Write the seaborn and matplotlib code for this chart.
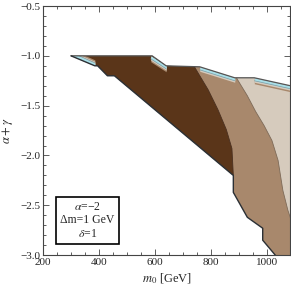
import numpy as np
import matplotlib
matplotlib.use("Agg")
import matplotlib.pyplot as plt
import seaborn as sns
from matplotlib.patches import Polygon
from matplotlib.ticker import MultipleLocator

# outer boundary of the allowed region (upper edge, then lower staircase edge)
top_m0 = [300, 590, 640, 760, 885, 955, 1100]
top_ag = [-1.0, -1.0, -1.1, -1.11, -1.22, -1.22, -1.31]
low_m0 = [300, 385, 395, 430, 455, 880, 880, 930, 985, 985, 1030, 1035]
low_ag = [-1.0, -1.1, -1.1, -1.2, -1.2, -2.2, -2.37, -2.62, -2.73, -2.85, -3.0, -3.05]

# contour between dark and medium region
dm_m0 = [743, 790, 825, 855, 875, 880]
dm_ag = [-1.12, -1.34, -1.54, -1.74, -1.93, -2.2]

# contour between medium and light region
ml_m0 = [893, 930, 960, 990, 1018, 1040, 1057, 1075, 1095]
ml_ag = [-1.23, -1.40, -1.56, -1.70, -1.85, -2.05, -2.35, -2.55, -2.72]

# thin cyan slivers along the edge (+1: band lies above the edge, -1: below)
cyan_m0 = [[305, 385], [585, 640], [760, 885], [955, 1100]]
cyan_ag = [[-1.0, -1.1], [-1.0, -1.1], [-1.11, -1.22], [-1.22, -1.31]]
cyan_side = [1, -1, -1, -1]

dark = "#5a3519"
medium = "#a8886c"
light = "#d6cbbd"
cyan = "#a9dfe8"

sns.set_style("ticks")
plt.rcParams["font.family"] = ["Liberation Serif", "DejaVu Serif"]
plt.rcParams["mathtext.fontset"] = "stix"

fig = plt.figure(figsize=(2.91, 2.87), dpi=100)
ax = fig.add_axes([0.148, 0.111, 0.849, 0.868])

region_xy = list(zip(top_m0, top_ag)) + [(1100, -3.05)] + list(zip(low_m0, low_ag))[::-1]
region = Polygon(region_xy, closed=True, facecolor=light, edgecolor="none", zorder=1)
ax.add_patch(region)

med_xy = [(200, -0.9), (ml_m0[0], -0.9)] + list(zip(ml_m0, ml_ag)) + [(1100, -3.1), (200, -3.1)]
med = Polygon(med_xy, closed=True, facecolor=medium, edgecolor="#7d6a58", lw=0.6, zorder=2)
ax.add_patch(med)
med.set_clip_path(region)

dark_xy = [(200, -0.9), (dm_m0[0], -0.9)] + list(zip(dm_m0, dm_ag)) + [(880, -3.1), (200, -3.1)]
dk = Polygon(dark_xy, closed=True, facecolor=dark, edgecolor="#4a3020", lw=0.6, zorder=3)
ax.add_patch(dk)
dk.set_clip_path(region)

for xs, ys, side in zip(cyan_m0, cyan_ag, cyan_side):
    xs = np.array(xs, dtype=float)
    ys = np.array(ys, dtype=float)
    b1 = ax.fill_between(xs, ys, ys + side * 0.06, color=medium, lw=0, zorder=4)
    b2 = ax.fill_between(xs, ys, ys + side * 0.045, color=light, lw=0, zorder=4)
    b3 = ax.fill_between(xs, ys, ys + side * 0.03, color=cyan, lw=0, zorder=4)
    ln = ax.plot(xs, ys + side * 0.03, color="#7f9aa0", lw=0.5, zorder=5)[0]
    for a in (b1, b2, b3, ln):
        a.set_clip_path(region)

# outline
ax.plot(top_m0, top_ag, color="#555555", lw=0.9, zorder=6)
ax.plot(low_m0, low_ag, color="#2b3035", lw=1.0, zorder=6)

ax.set_xlim(200, 1083)
ax.set_ylim(-3.0, -0.5)
ax.xaxis.set_major_locator(MultipleLocator(200))
ax.xaxis.set_minor_locator(MultipleLocator(50))
ax.yaxis.set_major_locator(MultipleLocator(0.5))
ax.yaxis.set_minor_locator(MultipleLocator(0.1))
ax.tick_params(which="both", direction="in", top=True, right=True, labelsize=8, width=0.6, color="#444444", pad=2)
ax.tick_params(which="major", length=4)
ax.tick_params(which="minor", length=2)
for s in ax.spines.values():
    s.set_linewidth(0.8)
    s.set_color("#444444")

ax.set_xlabel("$m_0$ [GeV]", fontsize=9, labelpad=3)
ax.set_ylabel(r"$\alpha+\gamma$", fontsize=9, labelpad=4)

ax.text(0.18, 0.14, "$\\alpha$=\u22122\n\u0394m=1 GeV\n$\\delta$=1", transform=ax.transAxes,
        ha="center", va="center", fontsize=8.5, linespacing=1.15, zorder=10,
        bbox=dict(boxstyle="square,pad=0.35", facecolor="white", edgecolor="black", lw=1.2))

fig.savefig("out.png", dpi=100)
